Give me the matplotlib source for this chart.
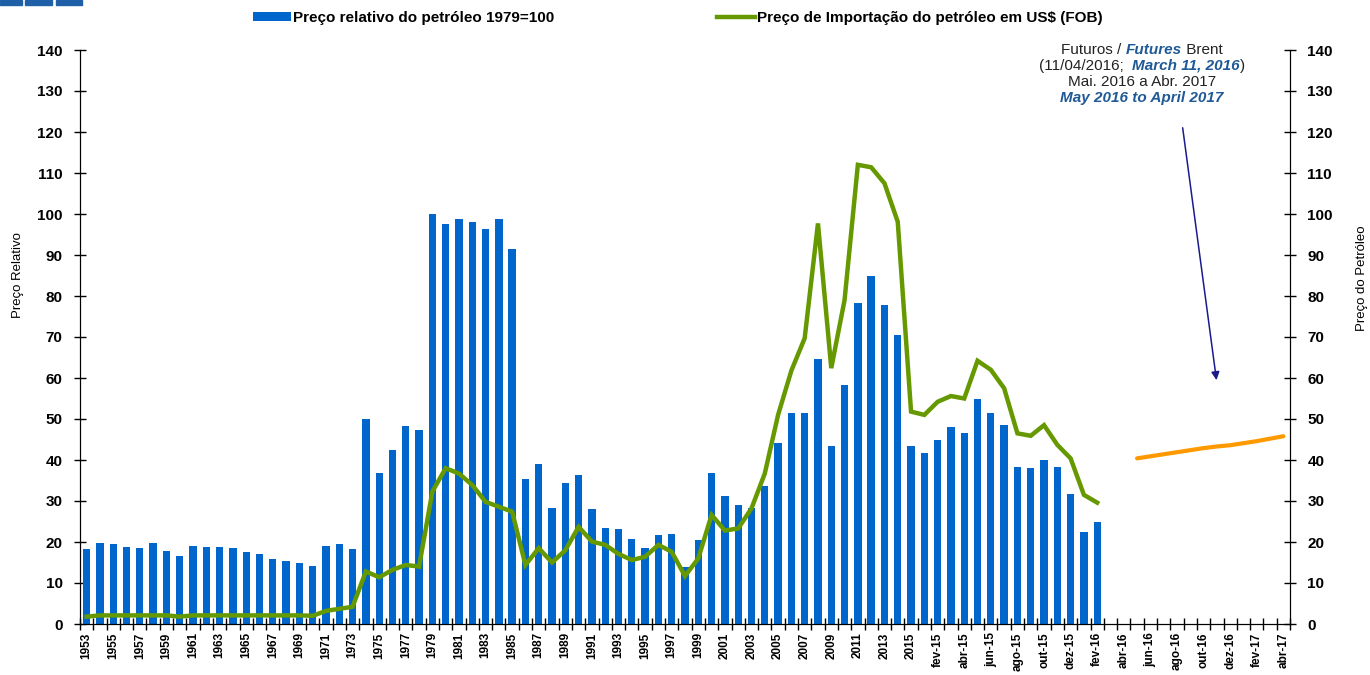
import numpy as np
import matplotlib
matplotlib.use("Agg")
import matplotlib.pyplot as plt
from matplotlib.patches import Patch, Rectangle
from matplotlib.lines import Line2D

plt.rcParams["font.family"] = ["Liberation Sans", "DejaVu Sans"]

# ---- data -------------------------------------------------------------
YEARS = [str(y) for y in range(1953, 2016)]
MONTHS_PT = ["jan", "fev", "mar", "abr", "mai", "jun",
             "jul", "ago", "set", "out", "nov", "dez"]
MONTHS = [f"{m}-15" for m in MONTHS_PT] + [f"{m}-16" for m in MONTHS_PT] + \
         [f"{m}-17" for m in MONTHS_PT[:4]]
CATEGORIES = YEARS + MONTHS  # 1953..2015, jan-15..abr-17

# relative oil price (1979=100), 1953..2015 then jan-15..fev-16
REL_PRICE = [
    18.2, 19.7, 19.4, 18.8, 18.5, 19.7, 17.7, 16.7, 19.1, 18.8,
    18.8, 18.5, 17.5, 17.0, 15.9, 15.3, 14.8, 14.2, 19.1, 19.4,
    18.2, 50.0, 36.9, 42.5, 48.3, 47.3, 100.0, 97.5, 98.7, 98.0,
    96.3, 98.9, 91.5, 35.4, 39.0, 28.4, 34.3, 36.3, 28.0, 23.3,
    23.1, 20.7, 18.5, 21.8, 22.0, 13.9, 20.5, 36.8, 31.2, 29.0,
    28.2, 33.6, 44.1, 51.5, 51.5, 64.6, 43.3, 58.2, 78.3, 85.0,
    77.8, 70.5, 43.5,
    41.6, 44.9, 48.1, 46.7, 54.8, 51.5, 48.6, 38.4, 38.1, 40.0,
    38.4, 31.7, 22.5, 25.0,
]

# import price in US$ (FOB), same span as bars
IMPORT_PRICE = [
    1.8, 2.1, 2.1, 2.1, 2.1, 2.1, 2.1, 1.8, 2.1, 2.1,
    2.1, 2.1, 2.1, 2.1, 2.1, 2.1, 2.1, 2.0, 3.2, 3.7,
    4.2, 12.8, 11.4, 13.2, 14.4, 14.0, 32.3, 38.0, 36.7, 33.9,
    29.8, 28.6, 27.4, 14.4, 18.5, 15.0, 18.0, 23.7, 20.1, 19.3,
    17.1, 15.6, 16.4, 19.3, 17.6, 11.7, 16.0, 26.6, 22.8, 23.3,
    28.2, 36.7, 51.0, 61.8, 69.7, 97.7, 62.4, 79.0, 112.0, 111.4,
    107.5, 98.1, 51.8,
    51.0, 54.2, 55.6, 55.0, 64.2, 62.0, 57.5, 46.5, 45.9, 48.5,
    43.7, 40.4, 31.5, 29.6,
]

# Brent futures, mai-16..abr-17
FUTURES = [40.4, 40.9, 41.4, 41.9, 42.4, 42.9, 43.3, 43.6, 44.1, 44.6, 45.2, 45.8]
FUTURES_START = CATEGORIES.index("mai-16")

BAR_COLOR = "#0066cc"
LINE_COLOR = "#669900"
FUT_COLOR = "#ff9900"
NOTE_BLUE = "#1f5a96"


def rich_line(fig, xc, y, parts, size=11):
    """Draw one centred line made of differently styled pieces."""
    texts = []
    for txt, blue in parts:
        kw = dict(fontsize=size, va="center", ha="left")
        if blue:
            kw.update(color=NOTE_BLUE, fontweight="bold", fontstyle="italic")
        else:
            kw.update(color="#222222")
        texts.append(fig.text(0, y, txt, **kw))
    renderer = fig.canvas.get_renderer()
    widths = [t.get_window_extent(renderer).width / fig.bbox.width for t in texts]
    x = xc - sum(widths) / 2
    for t, w in zip(texts, widths):
        t.set_x(x)
        x += w


def main():
    W, H = 1370, 675
    fig = plt.figure(figsize=(W / 100, H / 100), dpi=100)
    ax = fig.add_axes([80 / W, 51 / H, 1210 / W, 574 / H])

    n = len(CATEGORIES)
    xb = np.arange(len(REL_PRICE))
    ax.bar(xb, REL_PRICE, width=0.55, color=BAR_COLOR, zorder=2)

    ax.set_xlim(-0.5, n - 0.5)
    ax.set_ylim(0, 140)
    ax.set_yticks(np.arange(0, 141, 10))
    ax.set_xticks(np.arange(0, n, 2))
    ax.set_xticklabels(CATEGORIES[::2], rotation=90, fontsize=8.5, fontweight="bold")
    ax.set_xticks(np.arange(-0.5, n, 1), minor=True)
    ax.tick_params(axis="x", which="major", length=0, pad=6)
    ax.tick_params(axis="x", which="minor", direction="inout", length=8, width=1)
    ax.tick_params(axis="y", direction="inout", length=9, width=1, pad=8,
                   labelsize=11)
    for lab in ax.get_yticklabels():
        lab.set_fontweight("bold")
    ax.spines["top"].set_visible(False)

    ax2 = ax.twinx()
    ax2.set_ylim(0, 140)
    ax2.set_yticks(np.arange(0, 141, 10))
    ax2.tick_params(axis="y", direction="inout", length=9, width=1, pad=8,
                    labelsize=11)
    for lab in ax2.get_yticklabels():
        lab.set_fontweight("bold")
    ax2.spines["top"].set_visible(False)

    ax2.plot(np.arange(len(IMPORT_PRICE)), IMPORT_PRICE, color=LINE_COLOR,
             lw=3.2, solid_joinstyle="miter", zorder=3)
    xf = np.arange(FUTURES_START, FUTURES_START + len(FUTURES))
    ax2.plot(xf, FUTURES, color=FUT_COLOR, lw=3.0, solid_capstyle="round")

    # arrow from the futures note down to the orange line
    ax2.annotate("", xy=(85.0, 58.8), xytext=(82.4, 121.7),
                 arrowprops=dict(arrowstyle="-|>", color="#1a1a8a", lw=1.1,
                                 mutation_scale=12))

    fig.text(18 / W, 1 - 275 / H, "Preço Relativo", rotation=90,
             ha="center", va="center", fontsize=9.5)
    fig.text(1362 / W, 1 - 278 / H, "Preço do Petróleo", rotation=90,
             ha="center", va="center", fontsize=9.5)

    handles = [Patch(facecolor=BAR_COLOR),
               Line2D([0], [0], color=LINE_COLOR, lw=3.2)]
    labels = ["Preço relativo do petróleo 1979=100",
              "Preço de Importação do petróleo em US$ (FOB)"]
    fig.legend(handles, labels, loc="upper left", ncol=2, frameon=False,
               bbox_to_anchor=(253 / W, 1 - 11 / H), borderpad=0, borderaxespad=0,
               handlelength=2.5, handleheight=0.45, handletextpad=0.15,
               columnspacing=10.6, prop=dict(size=11, weight="bold"))

    # note about Brent futures
    xc = 1142 / W
    rich_line(fig, xc, 1 - 50 / H, [("Futuros / ", False), ("Futures", True), (" Brent", False)])
    rich_line(fig, xc, 1 - 66 / H, [("(11/04/2016;  ", False), ("March 11, 2016", True), (")", False)])
    rich_line(fig, xc, 1 - 82 / H, [("Mai. 2016 a Abr. 2017", False)])
    rich_line(fig, xc, 1 - 98 / H, [("May 2016 to April 2017", True)])

    # small header blocks top-left
    for x0, x1 in [(0, 22), (25, 52), (56, 82)]:
        fig.patches.append(Rectangle((x0 / W, 1 - 5 / H), (x1 - x0) / W, 5 / H,
                                     transform=fig.transFigure, color="#1f5fa8"))

    fig.savefig("out.png", dpi=100)
    plt.close(fig)


if __name__ == "__main__":
    main()
